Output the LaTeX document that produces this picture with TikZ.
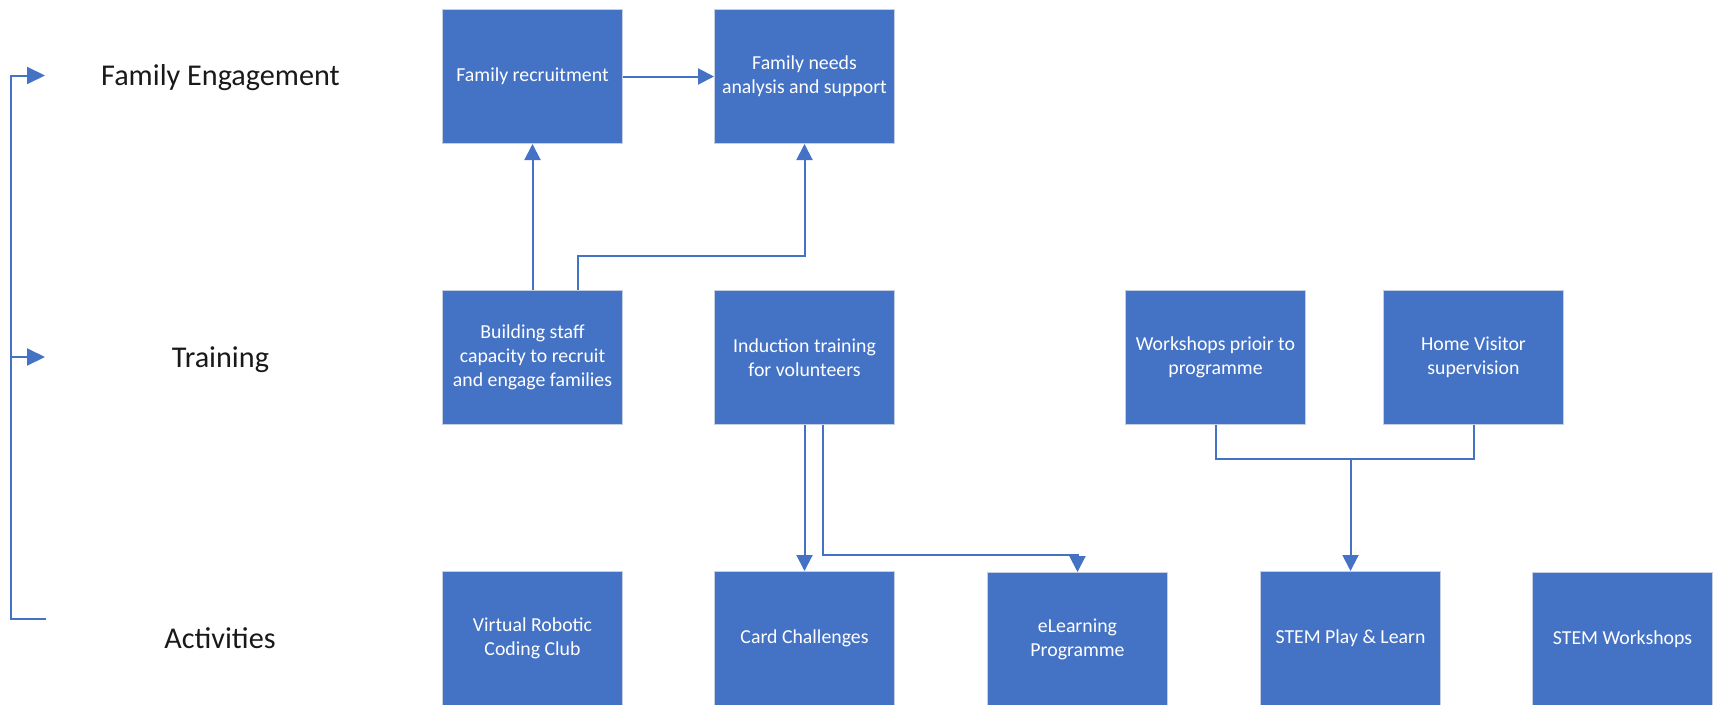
\documentclass[tikz,border=0pt]{standalone}
\usepackage{fontspec}
\setmainfont{Carlito}
\usetikzlibrary{arrows.meta,calc}
\definecolor{obox}{HTML}{4472C4}
\definecolor{oedge}{HTML}{C5CFE2}
\begin{document}
\begin{tikzpicture}[x=1pt,y=-1pt,
  stepbox/.style={draw=oedge,line width=1pt,fill=obox,minimum width=180pt,minimum height=134pt,
    inner sep=2pt,text=white,align=center,anchor=north west,font=\fontsize{19.8}{24}\selectfont},
  wire/.style={draw=obox,line width=2pt,line join=miter},
  conn/.style={wire,-{Triangle[length=16pt,width=16pt]}},
  barrow/.style={wire,-{Triangle[length=18pt,width=17pt]}},
  lane/.style={font=\fontsize{30.2}{36}\selectfont,text=black!90,inner sep=0pt,anchor=base}]
\useasboundingbox (0,0) rectangle (1715,704);

% boxes
\node[stepbox] (fr) at (442,9) {\raisebox{-2pt}{Family recruitment}};
\node[stepbox] (fn) at (714,9) {Family needs\\analysis and support\rule[-4pt]{0pt}{1pt}};
\node[stepbox] (bs) at (442,290) {Building staff\\capacity to recruit\\and engage families\rule[-4pt]{0pt}{1pt}};
\node[stepbox] (it) at (714,290) {Induction training\\for volunteers};
\node[stepbox] (ws) at (1125,290) {Workshops prioir to\\programme};
\node[stepbox] (hv) at (1383,290) {Home Visitor\\supervision};
\node[stepbox] (vr) at (442,571) {Virtual Robotic\\Coding Club};
\node[stepbox] (cc) at (714,571) {Card Challenges};
\node[stepbox] (el) at (987,572) {eLearning\\Programme};
\node[stepbox] (sp) at (1260,571) {STEM Play \& Learn};
\node[stepbox] (sw) at (1532,572) {STEM Workshops};

% lane labels
\node[lane] (fe) at (220.5,85) {Family Engagement};
\node[lane] (tr) at (220.5,367) {Training};
\node[lane] (ac) at (220,648) {Activities};

% connectors
\draw[conn] (fr) -- (fn);
\draw[conn] (bs) -- (fr);
\draw[conn] ([xshift=45pt]bs.north) -- ++(0,-34) -| (fn.south);
\draw[conn] (it) -- (cc);
\draw[conn] ([xshift=18pt]it.south) -- ++(0,130) -| (el.north);
\draw[wire] (ws.south) -- ++(0,34) coordinate (jn) -| (hv.south);
\draw[conn] (jn -| sp.north) -- (sp.north);

% bracket
\coordinate (btop) at (11,75.5);
\coordinate (bmid) at (11,357);
\coordinate (bbot) at (11,619);
\coordinate (ftip) at (45,75.5);
\coordinate (ttip) at (45,357);
\coordinate (bend) at (46,619);
\draw[barrow] (bend) -- (bbot) -- (btop) -- (ftip);
\draw[barrow] (bmid) -- (ttip);
\end{tikzpicture}
\end{document}
